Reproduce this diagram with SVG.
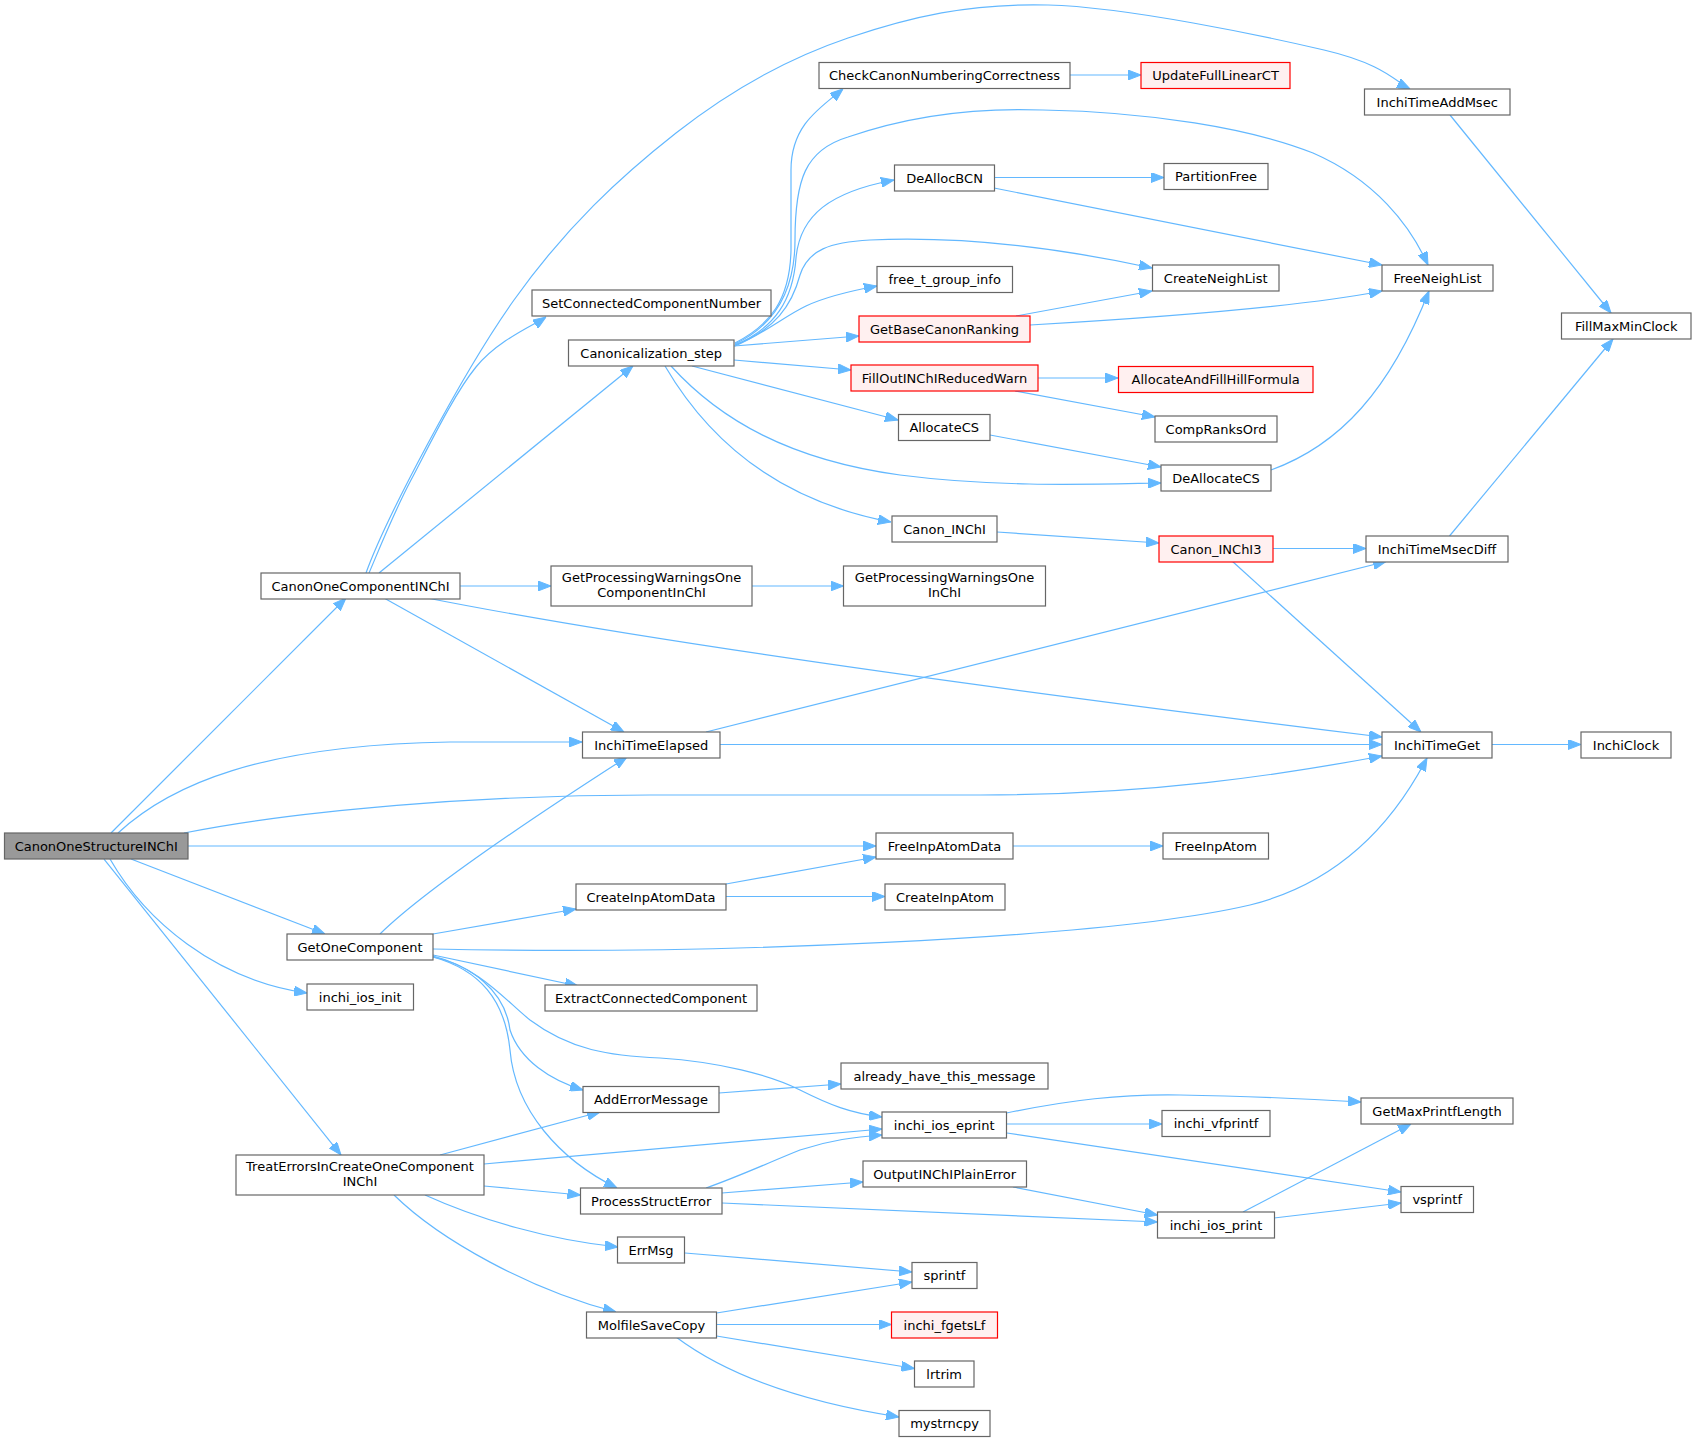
<svg xmlns="http://www.w3.org/2000/svg" width="1696" height="1441" viewBox="0 0 1696 1441">
<style>
.n rect{fill:#ffffff;stroke:#666666;stroke-width:1.2}
.n.r rect{fill:#fff0f0;stroke:#ff0000}
.n.g rect{fill:#999999;stroke:#666666}
.n text{font-family:"DejaVu Sans","Liberation Sans",sans-serif;font-size:13px;fill:#000000;text-anchor:middle}
#edges path{fill:none;stroke:#63b8ff;stroke-width:1.2;marker-end:url(#ah)}
</style>
<defs>
<marker id="ah" viewBox="0 0 13 10" refX="13" refY="5" markerWidth="13" markerHeight="10" markerUnits="userSpaceOnUse" orient="auto">
<path d="M0,0 L13,5 L0,10 z" fill="#63b8ff" stroke="#63b8ff" stroke-width="1"/>
</marker>
</defs>
<rect x="0" y="0" width="1696" height="1441" fill="#ffffff"/>
<g id="edges">
<path d="M111,833 L346,598"/>
<path d="M118,833 C170,785 260,745 450,742 L582,742"/>
<path d="M184,833 C300,810 480,795 650,795 L980,795 C1150,795 1280,775 1382,756"/>
<path d="M188,846 L876,846"/>
<path d="M131,859 L325,934"/>
<path d="M110,859 C145,920 215,980 307,993"/>
<path d="M104,859 L341,1155"/>
<path d="M366,573 C385,520 462,373 514,300 C566,227 620,177 676,133 C732,89 786,59 848,38 C910,17 969,3 1048,5 C1127,7 1264,36 1324,50 C1384,64 1396,82 1410,89"/>
<path d="M369,573 C376,557 393,514 411,480 C429,446 454,394 476,367 C498,340 534,325 546,317"/>
<path d="M379,573 L633,366"/>
<path d="M460,586 L551,586"/>
<path d="M384,598 L624,732"/>
<path d="M427,598 C640,640 1000,690 1382,737"/>
<path d="M735,343 C770,325 790,300 791,250 L791,170 C791,125 820,108 843,89"/>
<path d="M735,344 C775,325 795,290 795,240 C795,180 805,150 848,137 C920,112 990,108 1043,110 C1150,112 1250,128 1313,153 C1375,180 1410,225 1428,265"/>
<path d="M735,345 C775,328 793,300 796,258 C800,215 830,192 894,180"/>
<path d="M735,345 C775,330 792,305 800,275 C808,250 830,242 870,240 C960,236 1060,248 1152,268"/>
<path d="M735,346 C765,333 785,316 806,306 C825,297 850,291 877,286"/>
<path d="M734,346 L859,336"/>
<path d="M734,360 L851,370"/>
<path d="M692,366 L898,420"/>
<path d="M671,366 C720,420 790,460 900,475 C1000,488 1100,484 1161,483"/>
<path d="M665,366 C720,460 800,505 891,522"/>
<path d="M1016,316 L1152,291"/>
<path d="M1030,325 C1150,318 1300,307 1382,291"/>
<path d="M994,177.5 L1164,177.5"/>
<path d="M994,188 L1382,265"/>
<path d="M1070,75 L1141,75"/>
<path d="M1450,115 L1611,313"/>
<path d="M1038,378 L1118,378"/>
<path d="M1015,391 L1155,417"/>
<path d="M990,435 L1161,467"/>
<path d="M1271,470 C1340,445 1390,390 1429,291"/>
<path d="M997,532 L1159,543"/>
<path d="M1273,548.5 L1366,548.5"/>
<path d="M1232,561 L1421,732"/>
<path d="M1449.5,536 L1613,339"/>
<path d="M706,732 L1386,561.5"/>
<path d="M720,744.5 L1382,744.5"/>
<path d="M1492,744.5 L1581,744.5"/>
<path d="M752,586 L843.5,586"/>
<path d="M380,934 C430,885 560,800 627,757"/>
<path d="M433,934 L576,909"/>
<path d="M433,949 C700,955 1100,940 1250,905 C1350,880 1400,810 1427,758"/>
<path d="M433,955 L578,986"/>
<path d="M433,957 C470,965 505,990 510,1030 C520,1060 550,1080 583,1090"/>
<path d="M433,957 C480,970 505,1000 510,1050 C515,1110 560,1160 617,1188"/>
<path d="M433,956 C480,968 505,1000 530,1020 C570,1050 610,1056 660,1058 C720,1062 770,1075 800,1090 C830,1105 850,1113 882,1117"/>
<path d="M440,1155 L600,1112"/>
<path d="M484,1164 L882,1129"/>
<path d="M484,1186 L580.5,1195"/>
<path d="M425,1195 C480,1220 550,1240 618,1247"/>
<path d="M394,1195 C440,1240 530,1290 616,1312"/>
<path d="M719,1093 L841,1084"/>
<path d="M1006.5,1113 C1070,1100 1120,1094 1180,1095 C1250,1096 1310,1099 1361,1102"/>
<path d="M1006.5,1124 L1162,1124"/>
<path d="M1007,1133 L1401,1192"/>
<path d="M1013,1187 L1157.5,1215"/>
<path d="M706,1188 C740,1176 770,1162 800,1150 C830,1140 855,1137 882,1135"/>
<path d="M722,1193 L863,1182"/>
<path d="M722,1203 L1157.5,1222"/>
<path d="M1243,1212 L1411,1124"/>
<path d="M1274,1218 L1401,1203"/>
<path d="M685,1253 L912,1272"/>
<path d="M716.5,1313 L912,1282"/>
<path d="M716.5,1324.5 L891.5,1324.5"/>
<path d="M716.5,1336 L914.5,1368.5"/>
<path d="M676,1337 C720,1370 790,1400 899,1417"/>
<path d="M726,884 L876,857"/>
<path d="M726,896.5 L885,896.5"/>
<path d="M1013,846 L1163,846"/>
</g>
<g id="CanonOneStructureINChI" class="n g"><rect x="4.5" y="833" width="183.5" height="26"/><text x="96.2" y="850.5">CanonOneStructureINChI</text></g>
<g id="CanonOneComponentINChI" class="n"><rect x="261" y="573" width="199" height="26"/><text x="360.5" y="590.5">CanonOneComponentINChI</text></g>
<g id="SetConnectedComponentNumber" class="n"><rect x="532" y="290" width="239" height="26"/><text x="651.5" y="307.5">SetConnectedComponentNumber</text></g>
<g id="Canonicalization_step" class="n"><rect x="568.5" y="340" width="165.5" height="26"/><text x="651.2" y="357.5">Canonicalization_step</text></g>
<g id="GetProcessingWarningsOneComponentInChI" class="n"><rect x="551" y="566" width="201" height="40"/><text x="651.5" y="582">GetProcessingWarningsOne</text><text x="651.5" y="596.5">ComponentInChI</text></g>
<g id="InchiTimeElapsed" class="n"><rect x="582.5" y="732" width="137.5" height="26"/><text x="651.2" y="749.5">InchiTimeElapsed</text></g>
<g id="GetOneComponent" class="n"><rect x="287" y="934" width="146" height="26"/><text x="360" y="951.5">GetOneComponent</text></g>
<g id="inchi_ios_init" class="n"><rect x="307" y="984" width="106.5" height="26"/><text x="360.2" y="1001.5">inchi_ios_init</text></g>
<g id="TreatErrorsInCreateOneComponentINChI" class="n"><rect x="236" y="1155" width="248" height="40"/><text x="360" y="1171">TreatErrorsInCreateOneComponent</text><text x="360" y="1185.5">INChI</text></g>
<g id="CheckCanonNumberingCorrectness" class="n"><rect x="819" y="62.5" width="251" height="26"/><text x="944.5" y="80">CheckCanonNumberingCorrectness</text></g>
<g id="UpdateFullLinearCT" class="n r"><rect x="1141" y="62.5" width="149" height="26"/><text x="1215.5" y="80">UpdateFullLinearCT</text></g>
<g id="InchiTimeAddMsec" class="n"><rect x="1364.5" y="89" width="145.5" height="26"/><text x="1437.2" y="106.5">InchiTimeAddMsec</text></g>
<g id="DeAllocBCN" class="n"><rect x="894.5" y="165" width="100" height="26"/><text x="944.5" y="182.5">DeAllocBCN</text></g>
<g id="PartitionFree" class="n"><rect x="1164" y="163.5" width="104" height="26"/><text x="1216" y="181">PartitionFree</text></g>
<g id="FreeNeighList" class="n"><rect x="1382" y="265" width="111" height="26"/><text x="1437.5" y="282.5">FreeNeighList</text></g>
<g id="CreateNeighList" class="n"><rect x="1152.5" y="265" width="126.5" height="26"/><text x="1215.7" y="282.5">CreateNeighList</text></g>
<g id="free_t_group_info" class="n"><rect x="877" y="266.5" width="135.5" height="26"/><text x="944.7" y="284">free_t_group_info</text></g>
<g id="GetBaseCanonRanking" class="n r"><rect x="859" y="316" width="171" height="26"/><text x="944.5" y="333.5">GetBaseCanonRanking</text></g>
<g id="FillMaxMinClock" class="n"><rect x="1561.5" y="313" width="129.5" height="26"/><text x="1626.2" y="330.5">FillMaxMinClock</text></g>
<g id="FillOutINChIReducedWarn" class="n r"><rect x="851" y="365" width="187" height="26"/><text x="944.5" y="382.5">FillOutINChIReducedWarn</text></g>
<g id="AllocateAndFillHillFormula" class="n r"><rect x="1118.5" y="366.5" width="194.5" height="26"/><text x="1215.7" y="384">AllocateAndFillHillFormula</text></g>
<g id="AllocateCS" class="n"><rect x="898.5" y="414.5" width="91.5" height="26"/><text x="944.2" y="432">AllocateCS</text></g>
<g id="CompRanksOrd" class="n"><rect x="1155" y="416" width="122" height="26"/><text x="1216" y="433.5">CompRanksOrd</text></g>
<g id="DeAllocateCS" class="n"><rect x="1161" y="465" width="110" height="26"/><text x="1216" y="482.5">DeAllocateCS</text></g>
<g id="Canon_INChI" class="n"><rect x="892" y="516" width="105" height="26"/><text x="944.5" y="533.5">Canon_INChI</text></g>
<g id="Canon_INChI3" class="n r"><rect x="1159" y="536" width="114" height="26"/><text x="1216" y="553.5">Canon_INChI3</text></g>
<g id="InchiTimeMsecDiff" class="n"><rect x="1366" y="536" width="142" height="26"/><text x="1437" y="553.5">InchiTimeMsecDiff</text></g>
<g id="GetProcessingWarningsOneInChI" class="n"><rect x="843.5" y="566" width="202" height="40"/><text x="944.5" y="582">GetProcessingWarningsOne</text><text x="944.5" y="596.5">InChI</text></g>
<g id="InchiTimeGet" class="n"><rect x="1382" y="732" width="110" height="26"/><text x="1437" y="749.5">InchiTimeGet</text></g>
<g id="InchiClock" class="n"><rect x="1581" y="732" width="90" height="26"/><text x="1626" y="749.5">InchiClock</text></g>
<g id="FreeInpAtomData" class="n"><rect x="876" y="833" width="137" height="26"/><text x="944.5" y="850.5">FreeInpAtomData</text></g>
<g id="FreeInpAtom" class="n"><rect x="1163" y="833" width="105.5" height="26"/><text x="1215.7" y="850.5">FreeInpAtom</text></g>
<g id="CreateInpAtomData" class="n"><rect x="576" y="884" width="150" height="26"/><text x="651" y="901.5">CreateInpAtomData</text></g>
<g id="CreateInpAtom" class="n"><rect x="885" y="884" width="120" height="26"/><text x="945" y="901.5">CreateInpAtom</text></g>
<g id="ExtractConnectedComponent" class="n"><rect x="545" y="985" width="212" height="26"/><text x="651" y="1002.5">ExtractConnectedComponent</text></g>
<g id="already_have_this_message" class="n"><rect x="841" y="1063" width="207" height="26"/><text x="944.5" y="1080.5">already_have_this_message</text></g>
<g id="AddErrorMessage" class="n"><rect x="583" y="1086.5" width="136" height="26"/><text x="651" y="1104">AddErrorMessage</text></g>
<g id="inchi_ios_eprint" class="n"><rect x="882" y="1112" width="124.5" height="26"/><text x="944.2" y="1129.5">inchi_ios_eprint</text></g>
<g id="GetMaxPrintfLength" class="n"><rect x="1361" y="1098" width="152" height="26"/><text x="1437" y="1115.5">GetMaxPrintfLength</text></g>
<g id="inchi_vfprintf" class="n"><rect x="1162" y="1110.5" width="108" height="26"/><text x="1216" y="1128">inchi_vfprintf</text></g>
<g id="OutputINChIPlainError" class="n"><rect x="863" y="1161" width="163.5" height="26"/><text x="944.7" y="1178.5">OutputINChIPlainError</text></g>
<g id="ProcessStructError" class="n"><rect x="580.5" y="1188" width="141.5" height="26"/><text x="651.2" y="1205.5">ProcessStructError</text></g>
<g id="vsprintf" class="n"><rect x="1401" y="1186.5" width="72.5" height="26"/><text x="1437.2" y="1204">vsprintf</text></g>
<g id="inchi_ios_print" class="n"><rect x="1157.5" y="1212" width="117" height="26"/><text x="1216" y="1229.5">inchi_ios_print</text></g>
<g id="ErrMsg" class="n"><rect x="617.5" y="1237" width="67" height="26"/><text x="651" y="1254.5">ErrMsg</text></g>
<g id="sprintf" class="n"><rect x="912" y="1262.5" width="65" height="26"/><text x="944.5" y="1280">sprintf</text></g>
<g id="MolfileSaveCopy" class="n"><rect x="586.5" y="1312" width="130" height="26"/><text x="651.5" y="1329.5">MolfileSaveCopy</text></g>
<g id="inchi_fgetsLf" class="n r"><rect x="891.5" y="1312" width="106" height="26"/><text x="944.5" y="1329.5">inchi_fgetsLf</text></g>
<g id="lrtrim" class="n"><rect x="914.5" y="1361" width="59.5" height="26"/><text x="944.2" y="1378.5">lrtrim</text></g>
<g id="mystrncpy" class="n"><rect x="899" y="1410.5" width="91" height="26"/><text x="944.5" y="1428">mystrncpy</text></g>
</svg>
